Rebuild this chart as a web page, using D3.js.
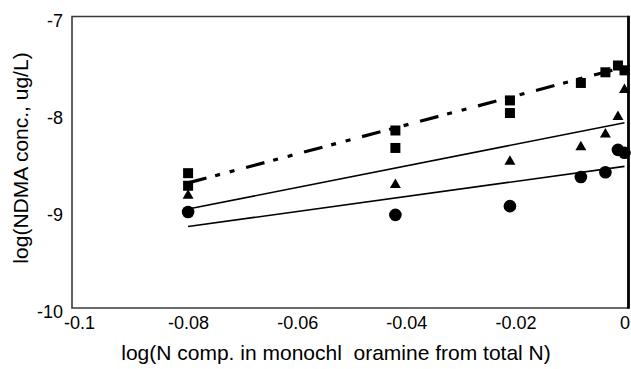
<html>

<head>
    <style>
        body {
            margin: 0;
            background: #ffffff;
            font-family: "Liberation Sans", Arial, Helvetica, sans-serif;
        }

        svg { display: block; }

        .eje text {
            font-family: "Liberation Sans", Arial, Helvetica, sans-serif;
            font-size: 18px;
            fill: #000000;
        }

        .titulo {
            font-size: 21px;
            fill: #000000;
            white-space: pre;
        }
    </style>

    <script src="https://cdn.jsdelivr.net/npm/d3@7"></script>
</head>

<body>
    <svg id="Grafico"></svg>

<script>
    // Valores
    const valoresX = [-0.08, -0.042, -0.021, -0.008, -0.0035, -0.0012, 0];
    const cuadradosA = [-8.61, -8.17, -7.86, -7.68, -7.57, -7.50, -7.55];
    const xCuadradosB = [-0.08, -0.042, -0.021];
    const cuadradosB = [-8.74, -8.35, -7.99];
    const triangulos = [-8.84, -8.73, -8.49, -8.34, -8.21, -8.03, -7.75];
    const circulos = [-9.01, -9.04, -8.95, -8.65, -8.60, -8.37, -8.40];

    // Rectas de ajuste (extremos)
    const xRectas = [-0.08, 0];
    const rectaCuadrados = [-8.71, -7.515];
    const rectaTriangulos = [-8.98, -8.09];
    const rectaCirculos = [-9.16, -8.54];

    const ticksX = [-0.1, -0.08, -0.06, -0.04, -0.02, 0];
    const etiquetasX = ["-0.1", "-0.08", "-0.06", "-0.04", "-0.02", "0"];
    const ticksY = [-10, -9, -8, -7];
    const etiquetasY = ["-10", "-9", "-8", "-7"];

    const tituloX = "log(N comp. in monochl  oramine from total N)";
    const tituloY = "log(NDMA conc., ug/L)";


    function configuracion() {
        let ancho = 631;
        let alto = 369;
        let marco = { left: 72, right: 628.5, top: 16.5, bottom: 308 };

        let contenedor = d3.select("#Grafico")
            .attr("width", ancho)
            .attr("height", alto);

        return { ancho, alto, marco, contenedor };
    }

    function escalas() {
        let escalaX = d3.scaleLinear()
            .domain([-0.1, 0])
            .range([79, 624.5]);

        let escalaY = d3.scaleLinear()
            .domain([-10, -7])
            .range([308, 17]);

        return { escalaX, escalaY };
    }

    function dibujarMarco(conf) {
        let { marco, contenedor } = conf;
        // izquierda, arriba y abajo en gris oscuro
        contenedor.append("path")
            .attr("d", `M${marco.right},${marco.top} H${marco.left} V${marco.bottom} H${marco.right}`)
            .attr("fill", "none")
            .attr("stroke", "#3a3a3a")
            .attr("stroke-width", 1.6);
        // lado derecho mas grueso
        contenedor.append("line")
            .attr("x1", marco.right).attr("x2", marco.right)
            .attr("y1", marco.top - 0.8).attr("y2", marco.bottom + 0.8)
            .attr("stroke", "#000000")
            .attr("stroke-width", 2.8);
    }

    function dibujarEjes(conf, esc) {
        let { contenedor, marco } = conf;
        let { escalaX, escalaY } = esc;

        let ejeX = d3.axisBottom(escalaX)
            .tickValues(ticksX)
            .tickFormat((d, i) => etiquetasX[i])
            .tickSize(0)
            .tickPadding(8);

        let gx = contenedor.append("g")
            .attr("class", "eje")
            .attr("transform", `translate(0,${marco.bottom})`)
            .call(ejeX);
        gx.select(".domain").remove();

        let ejeY = d3.axisLeft(escalaY)
            .tickValues(ticksY)
            .tickFormat((d, i) => etiquetasY[i])
            .tickSize(0)
            .tickPadding(9);

        let gy = contenedor.append("g")
            .attr("class", "eje")
            .attr("transform", `translate(${marco.left},0)`)
            .call(ejeY);
        gy.select(".domain").remove();
        gy.selectAll("text").attr("dy", "0.55em");

        contenedor.append("text")
            .attr("class", "titulo")
            .attr("x", 336)
            .attr("y", 360)
            .attr("text-anchor", "middle")
            .attr("xml:space", "preserve")
            .text(tituloX);

        contenedor.append("text")
            .attr("class", "titulo")
            .attr("transform", "translate(28,158) rotate(-90)")
            .attr("text-anchor", "middle")
            .text(tituloY);
    }

    function dibujarRectas(conf, esc) {
        let { contenedor } = conf;
        let { escalaX, escalaY } = esc;
        let linea = d3.line()
            .x(d => escalaX(d[0]))
            .y(d => escalaY(d[1]));

        let rectas = [
            { valores: rectaCuadrados, grosor: 3.2, trazo: "19,9,5,10,5,12" },
            { valores: rectaTriangulos, grosor: 1.6, trazo: null },
            { valores: rectaCirculos, grosor: 1.6, trazo: null }
        ];

        rectas.forEach(r => {
            contenedor.append("path")
                .datum(xRectas.map((x, i) => [x, r.valores[i]]))
                .attr("d", linea)
                .attr("fill", "none")
                .attr("stroke", "#000000")
                .attr("stroke-width", r.grosor)
                .attr("stroke-dasharray", r.trazo);
        });
    }

    function dibujarPuntos(conf, esc) {
        let { contenedor } = conf;
        let { escalaX, escalaY } = esc;

        let series = [
            { xs: valoresX, ys: cuadradosA, simbolo: d3.symbolSquare, tam: 100 },
            { xs: xCuadradosB, ys: cuadradosB, simbolo: d3.symbolSquare, tam: 100 },
            { xs: valoresX, ys: triangulos, simbolo: d3.symbolTriangle, tam: 52 },
            { xs: valoresX, ys: circulos, simbolo: d3.symbolCircle, tam: 125 }
        ];

        series.forEach(s => {
            let datos = s.xs.map((x, i) => ({ x: x, y: s.ys[i] }));
            contenedor.append("g").selectAll("path")
                .data(datos)
                .enter().append("path")
                .attr("d", d3.symbol().type(s.simbolo).size(s.tam))
                .attr("transform", d => `translate(${escalaX(d.x)},${escalaY(d.y)})`)
                .attr("fill", "#000000");
        });
    }


    let conf = configuracion();
    let esc = escalas();
    dibujarRectas(conf, esc);
    dibujarPuntos(conf, esc);
    dibujarMarco(conf);
    dibujarEjes(conf, esc);

</script>
</body>
</html>
